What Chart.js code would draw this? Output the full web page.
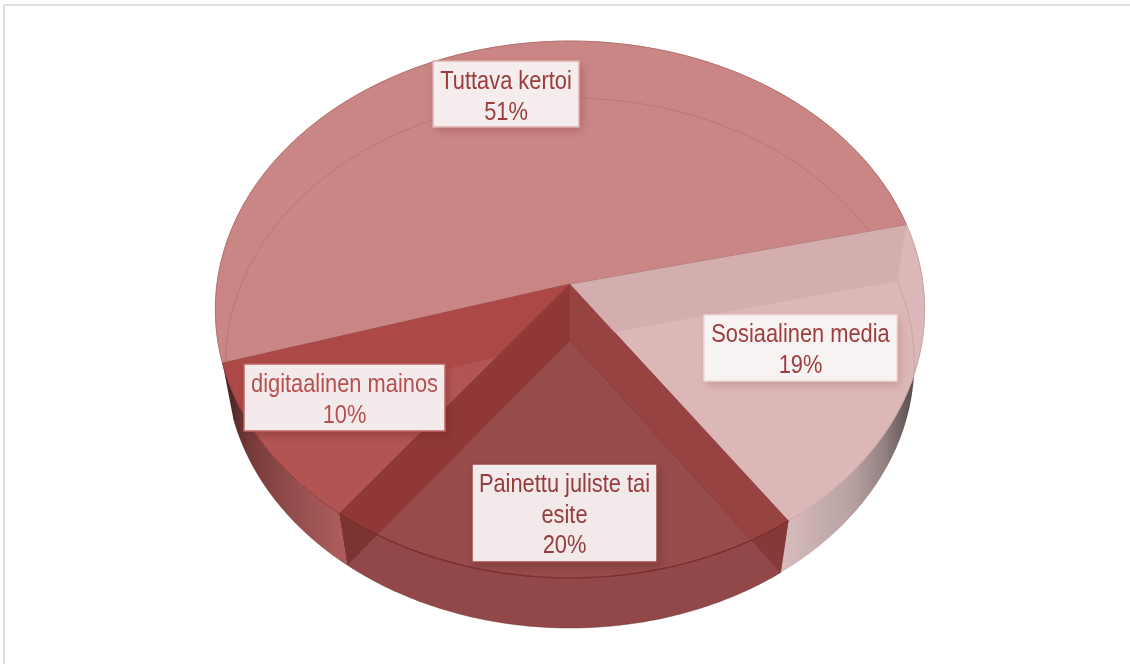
<!DOCTYPE html>
<html>
<head>
<meta charset="utf-8">
<title>Pie</title>
<script src="https://cdn.jsdelivr.net/npm/chart.js@4"></script>
<style>
  html, body { margin: 0; padding: 0; background: #fff; overflow: hidden; }
  #wrap { position: relative; width: 1130px; height: 664px; }
  #frame { position: absolute; left: 3px; top: 4px; right: 0; bottom: 0; border-left: 2px solid #dfdfdf; border-top: 2px solid #dfdfdf; pointer-events: none; }
</style>
</head>
<body>
<div id="wrap">
  <canvas id="pie" width="1130" height="664"></canvas>
  <div id="frame"></div>
</div>
<script>
const categories = ["Tuttava kertoi", "Sosiaalinen media", "Painettu juliste tai esite", "digitaalinen mainos"];
const shares = [51, 19, 20, 10];

// slice surface colours
const topColors = ["#ca8585", "#dcb7b7", "#984b4b", "#b25454"];
const rimColors = ["#b46e6e", "#cfa5a5", "#7e2c2c", "#8f3a3a"];
// face of the cut along each slice's starting edge, seen through the top
const cutColors = ["#ac4947", "#d4aeae", "#964341", "#8f3836"];
const cutLowColors = [null, null, "#863a38", "#7b3431"];
// outer wall shading, left to right
const wallStops = [
  null,
  [[785, "#d6bbbb"], [850, "#b9a2a2"], [885, "#928080"], [918, "#4d4343"]],
  [[340, "#924848"], [780, "#924848"]],
  [[228, "#4a2424"], [250, "#793a3a"], [300, "#96504f"], [342, "#ae5c5b"]]
];

// label boxes: left, top, right, bottom, first baseline
const labelBoxes = [
  [433, 61, 579, 127, 89],
  [704, 315, 897, 381, 342],
  [472, 464, 657, 562, 492],
  [244, 364, 445, 431, 392]
];
const labelFills = ["#f5eded", "#f8f3f3", "#f1e9ea", "#f3ebeb"];
const labelEdges = ["#dfb0b0", "#eed9d9", "#9a4545", "#c06464"];
const labelShadows = ["rgba(130,50,50,0.32)", "rgba(170,100,100,0.4)", "rgba(70,15,15,0.3)", "rgba(90,20,20,0.3)"];
const labelTexts = ["#9c3b3b", "#9e3d3d", "#973c3c", "#b84f4f"];

// upper and lower disc of the tilted pie, k is the perspective strength
const topFace = { ax: 570, ay: 284, rx: 353, ry: 266, k: 0.095 };
const floorFace = { ax: 570, ay: 340, rx: 343, ry: 263, k: 0.087 };

function project(face, t) {
  const u = Math.cos(t), v = Math.sin(t);
  const w = 1 - face.k * v;
  return [face.ax + face.rx * u / w, face.ay + face.ry * v / w];
}

function traceRim(ctx, face, from, to, jump) {
  const steps = Math.max(2, Math.ceil(Math.abs(to - from) / 0.01));
  for (let i = 0; i <= steps; i++) {
    const p = project(face, from + (to - from) * i / steps);
    if (i === 0 && jump) ctx.moveTo(p[0], p[1]);
    else ctx.lineTo(p[0], p[1]);
  }
}

function sectorPath(ctx, face, arc) {
  ctx.beginPath();
  ctx.moveTo(face.ax, face.ay);
  traceRim(ctx, face, arc.startAngle, arc.endAngle, false);
  ctx.closePath();
}

function cutPath(ctx, t) {
  const a = project(topFace, t), b = project(floorFace, t);
  ctx.beginPath();
  ctx.moveTo(topFace.ax, topFace.ay);
  ctx.lineTo(a[0], a[1]);
  ctx.lineTo(b[0], b[1]);
  ctx.lineTo(floorFace.ax, floorFace.ay);
  ctx.closePath();
}

function drawLabel(ctx, i) {
  const [l, t, r, b, base] = labelBoxes[i];
  ctx.save();
  ctx.shadowColor = labelShadows[i];
  ctx.shadowBlur = 9;
  ctx.shadowOffsetX = 3;
  ctx.shadowOffsetY = 4;
  ctx.fillStyle = labelFills[i];
  ctx.fillRect(l, t, r - l, b - t);
  ctx.restore();
  ctx.strokeStyle = labelEdges[i];
  ctx.lineWidth = 1.5;
  ctx.strokeRect(l, t, r - l, b - t);

  // the typeface runs a little narrow here
  const squeeze = 0.84;
  ctx.font = '26px "Liberation Sans", Arial, sans-serif';
  const words = categories[i].split(" ");
  const lines = [];
  let line = "";
  for (const word of words) {
    const next = line ? line + " " + word : word;
    if (ctx.measureText(next).width * squeeze > r - l - 8 && line) {
      lines.push(line);
      line = word;
    } else {
      line = next;
    }
  }
  lines.push(line, shares[i] + "%");
  const mid = (l + r) / 2;
  ctx.fillStyle = labelTexts[i];
  ctx.textAlign = "center";
  ctx.textBaseline = "alphabetic";
  lines.forEach(function (text, n) {
    ctx.save();
    ctx.translate(mid, base + n * 30.5);
    ctx.scale(squeeze, 1);
    ctx.fillText(text, 0, 0);
    ctx.restore();
  });
}

const tiltedPie = {
  id: "tiltedPie",
  beforeDatasetDraw(chart, args) {
    const ctx = chart.ctx;
    const arcs = args.meta.data;
    ctx.save();

    // outer walls
    arcs.forEach(function (arc, i) {
      if (!wallStops[i]) return;
      const stops = wallStops[i];
      const x0 = stops[0][0], x1 = stops[stops.length - 1][0];
      const grad = ctx.createLinearGradient(x0, 0, x1, 0);
      stops.forEach(function (s) { grad.addColorStop((s[0] - x0) / (x1 - x0), s[1]); });
      ctx.beginPath();
      traceRim(ctx, topFace, arc.startAngle, arc.endAngle, true);
      traceRim(ctx, floorFace, arc.endAngle, arc.startAngle, false);
      ctx.closePath();
      ctx.fillStyle = grad;
      ctx.fill();
    });

    // ends of the cut faces that show below the front rim
    arcs.forEach(function (arc, i) {
      if (!cutLowColors[i]) return;
      cutPath(ctx, arc.startAngle);
      ctx.fillStyle = cutLowColors[i];
      ctx.fill();
    });

    // top surfaces
    arcs.forEach(function (arc) {
      sectorPath(ctx, topFace, arc);
      ctx.fillStyle = arc.options.backgroundColor;
      ctx.fill();
      ctx.strokeStyle = arc.options.backgroundColor;
      ctx.lineWidth = 0.6;
      ctx.stroke();
    });

    // what shows through the tops
    ctx.save();
    ctx.beginPath();
    traceRim(ctx, topFace, 0, Math.PI * 2, true);
    ctx.closePath();
    ctx.clip();
    [0, 1].forEach(function (i) {
      ctx.beginPath();
      traceRim(ctx, floorFace, arcs[i].startAngle, arcs[i].endAngle, true);
      ctx.strokeStyle = i === 0 ? "rgba(150,70,70,0.24)" : "rgba(170,120,120,0.3)";
      ctx.lineWidth = 1;
      ctx.stroke();
    });
    arcs.forEach(function (arc, i) {
      cutPath(ctx, arc.startAngle);
      ctx.fillStyle = cutColors[i];
      ctx.fill();
    });
    ctx.restore();

    // rims and slice edges
    arcs.forEach(function (arc, i) {
      ctx.beginPath();
      traceRim(ctx, topFace, arc.startAngle, arc.endAngle, true);
      ctx.strokeStyle = rimColors[i];
      ctx.lineWidth = i === 2 ? 1.4 : 1;
      ctx.stroke();
    });
    [0, 1].forEach(function (i) {
      const t = i === 0 ? arcs[0].startAngle : arcs[0].endAngle;
      const p = project(topFace, t);
      ctx.beginPath();
      ctx.moveTo(topFace.ax, topFace.ay);
      ctx.lineTo(p[0], p[1]);
      ctx.strokeStyle = "rgba(150,75,75,0.5)";
      ctx.lineWidth = 1;
      ctx.stroke();
    });
    [2, 3].forEach(function (i) {
      const p = project(floorFace, arcs[i].startAngle);
      ctx.beginPath();
      ctx.moveTo(floorFace.ax, floorFace.ay);
      ctx.lineTo(p[0], p[1]);
      ctx.strokeStyle = "rgba(110,35,35,0.25)";
      ctx.lineWidth = 1;
      ctx.stroke();
    });
    [2, 3].forEach(function (i) {
      ctx.beginPath();
      traceRim(ctx, floorFace, arcs[i].startAngle, arcs[i].endAngle, true);
      ctx.strokeStyle = "rgba(90,40,40,0.35)";
      ctx.lineWidth = 1;
      ctx.stroke();
    });

    arcs.forEach(function (arc, i) { drawLabel(ctx, i); });
    ctx.restore();
    return false;
  }
};

new Chart(document.getElementById("pie"), {
  type: "pie",
  data: {
    labels: categories,
    datasets: [{ data: shares, backgroundColor: topColors, borderWidth: 0 }]
  },
  options: {
    responsive: false,
    animation: false,
    rotation: -106.8,
    plugins: { legend: { display: false }, tooltip: { enabled: false } }
  },
  plugins: [tiltedPie]
});
</script>
</body>
</html>
